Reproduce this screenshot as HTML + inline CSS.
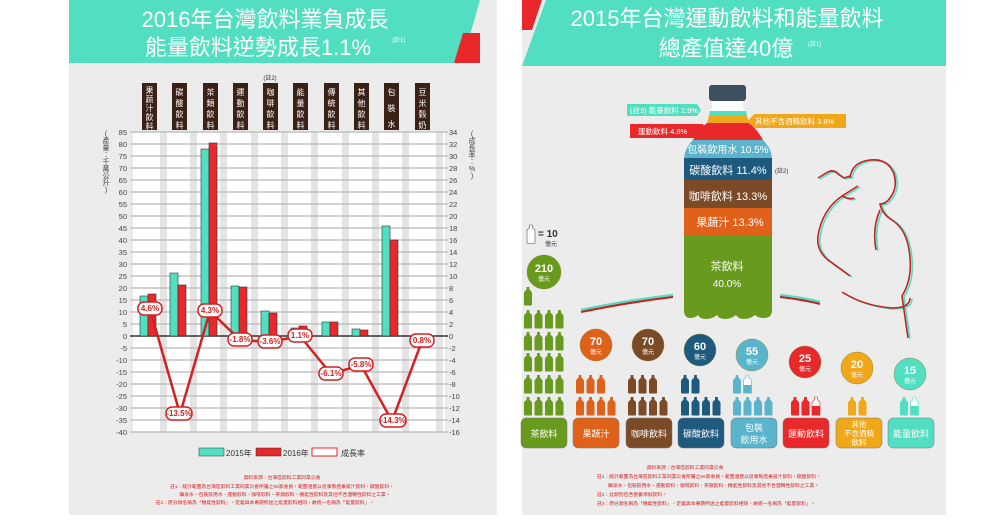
<!DOCTYPE html><html><head><meta charset="utf-8"><style>
body{margin:0;background:#fff;}
svg{display:block;font-family:"Liberation Sans","Noto Sans CJK TC",sans-serif;}
</style></head><body>
<svg width="1000" height="523" viewBox="0 0 1000 523">
<defs>
<path id="b" d="M2.6 0h2.8v2.5l1.2 1.2Q8 4.5 8 6v11.5q0 1-1 1H1q-1 0-1-1V6q0-1.5 1.4-2.3l1.2-1.2z"/>
</defs>
<rect x="69" y="0" width="428" height="515" fill="#ececec"/>
<rect x="522" y="0" width="424" height="515" fill="#ececec"/>
<polygon points="69,0 480,0 462,63 69,63" fill="#52dfc1"/>
<polygon points="463,33 480,33 480,63 454,63" fill="#e8282a"/>
<text x="265" y="27" font-size="22" fill="#fff" text-anchor="middle">2016年台灣飲料業負成長</text>
<text x="258" y="55" font-size="22" fill="#fff" text-anchor="middle">能量飲料逆勢成長1.1%</text>
<text x="392" y="42" font-size="6" fill="#fff">(註1)</text>
<rect x="133" y="132" width="312" height="300" fill="#fff"/>
<g fill="#e4e4e4">
<rect x="160" y="132" width="7" height="300"/><rect x="190" y="132" width="7" height="300"/><rect x="220" y="132" width="7" height="300"/><rect x="251" y="132" width="7" height="300"/><rect x="281" y="132" width="7" height="300"/><rect x="311" y="132" width="7" height="300"/><rect x="342" y="132" width="7" height="300"/><rect x="372" y="132" width="7" height="300"/><rect x="402" y="132" width="7" height="300"/><rect x="436" y="132" width="7" height="300"/>
</g>
<g stroke="#b8b8b8" stroke-width="1.3">
<line x1="130" y1="132" x2="448" y2="132"/><line x1="130" y1="144" x2="448" y2="144"/><line x1="130" y1="156" x2="448" y2="156"/><line x1="130" y1="168" x2="448" y2="168"/><line x1="130" y1="180" x2="448" y2="180"/><line x1="130" y1="192" x2="448" y2="192"/><line x1="130" y1="204" x2="448" y2="204"/><line x1="130" y1="216" x2="448" y2="216"/><line x1="130" y1="228" x2="448" y2="228"/><line x1="130" y1="240" x2="448" y2="240"/><line x1="130" y1="252" x2="448" y2="252"/><line x1="130" y1="264" x2="448" y2="264"/><line x1="130" y1="276" x2="448" y2="276"/><line x1="130" y1="288" x2="448" y2="288"/><line x1="130" y1="300" x2="448" y2="300"/><line x1="130" y1="312" x2="448" y2="312"/><line x1="130" y1="324" x2="448" y2="324"/><line x1="130" y1="348" x2="448" y2="348"/><line x1="130" y1="360" x2="448" y2="360"/><line x1="130" y1="372" x2="448" y2="372"/><line x1="130" y1="384" x2="448" y2="384"/><line x1="130" y1="396" x2="448" y2="396"/><line x1="130" y1="408" x2="448" y2="408"/><line x1="130" y1="420" x2="448" y2="420"/><line x1="130" y1="432" x2="448" y2="432"/>
</g>
<line x1="130" y1="336" x2="448" y2="336" stroke="#333" stroke-width="1.5"/>
<g font-size="7.5" fill="#444" text-anchor="end">
<text x="127" y="135">85</text><text x="127" y="147">80</text><text x="127" y="159">75</text><text x="127" y="171">70</text><text x="127" y="183">65</text><text x="127" y="195">60</text><text x="127" y="207">55</text><text x="127" y="219">50</text><text x="127" y="231">45</text><text x="127" y="243">40</text><text x="127" y="255">35</text><text x="127" y="267">30</text><text x="127" y="279">25</text><text x="127" y="291">20</text><text x="127" y="303">15</text><text x="127" y="315">10</text><text x="127" y="327">5</text><text x="127" y="339">0</text><text x="127" y="351">-5</text><text x="127" y="363">-10</text><text x="127" y="375">-15</text><text x="127" y="387">-20</text><text x="127" y="399">-25</text><text x="127" y="411">-30</text><text x="127" y="423">-35</text><text x="127" y="435">-40</text>
</g>
<g font-size="7.5" fill="#444">
<text x="449" y="135">34</text><text x="449" y="147">32</text><text x="449" y="159">30</text><text x="449" y="171">28</text><text x="449" y="183">26</text><text x="449" y="195">24</text><text x="449" y="207">22</text><text x="449" y="219">20</text><text x="449" y="231">18</text><text x="449" y="243">16</text><text x="449" y="255">14</text><text x="449" y="267">12</text><text x="449" y="279">10</text><text x="449" y="291">8</text><text x="449" y="303">6</text><text x="449" y="315">4</text><text x="449" y="327">2</text><text x="449" y="339">0</text><text x="449" y="351">-2</text><text x="449" y="363">-4</text><text x="449" y="375">-6</text><text x="449" y="387">-8</text><text x="449" y="399">-10</text><text x="449" y="411">-12</text><text x="449" y="423">-14</text><text x="449" y="435">-16</text>
</g>
<g font-size="7" fill="#444" text-anchor="middle">
<text x="106" y="136">(</text><text x="106" y="143">產</text><text x="106" y="150">量</text><text x="106" y="157">：</text><text x="106" y="164">千</text><text x="106" y="171">萬</text><text x="106" y="178">公</text><text x="106" y="185">升</text><text x="106" y="192">)</text>
<text x="472" y="136">(</text><text x="472" y="143">成</text><text x="472" y="150">長</text><text x="472" y="157">率</text><text x="472" y="164">：</text><text x="472" y="171">%</text><text x="472" y="178">)</text>
</g>
<g fill="#3b2217">
<rect x="142" y="83" width="15" height="47"/><rect x="172" y="83" width="15" height="47"/><rect x="203" y="83" width="15" height="47"/><rect x="233" y="83" width="15" height="47"/><rect x="263" y="83" width="15" height="47"/><rect x="293" y="83" width="15" height="47"/><rect x="324" y="83" width="15" height="47"/><rect x="354" y="83" width="15" height="47"/><rect x="384" y="83" width="15" height="47"/><rect x="415" y="83" width="15" height="47"/>
</g>
<text x="270" y="80" font-size="6" fill="#333" text-anchor="middle">(註2)</text>
<g font-size="8" fill="#fff" text-anchor="middle">
<text x="149.5" y="93">果</text><text x="149.5" y="102">蔬</text><text x="149.5" y="111">汁</text><text x="149.5" y="120">飲</text><text x="149.5" y="129">料</text>
<text x="179.5" y="95">碳</text><text x="179.5" y="106">酸</text><text x="179.5" y="117">飲</text><text x="179.5" y="128">料</text>
<text x="210.5" y="95">茶</text><text x="210.5" y="106">類</text><text x="210.5" y="117">飲</text><text x="210.5" y="128">料</text>
<text x="240.5" y="95">運</text><text x="240.5" y="106">動</text><text x="240.5" y="117">飲</text><text x="240.5" y="128">料</text>
<text x="270.5" y="95">咖</text><text x="270.5" y="106">啡</text><text x="270.5" y="117">飲</text><text x="270.5" y="128">料</text>
<text x="300.5" y="95">能</text><text x="300.5" y="106">量</text><text x="300.5" y="117">飲</text><text x="300.5" y="128">料</text>
<text x="331.5" y="95">傳</text><text x="331.5" y="106">統</text><text x="331.5" y="117">飲</text><text x="331.5" y="128">料</text>
<text x="361.5" y="95">其</text><text x="361.5" y="106">他</text><text x="361.5" y="117">飲</text><text x="361.5" y="128">料</text>
<text x="391.5" y="95">包</text><text x="391.5" y="111">裝</text><text x="391.5" y="127">水</text>
<text x="422.5" y="95">豆</text><text x="422.5" y="106">米</text><text x="422.5" y="117">穀</text><text x="422.5" y="128">奶</text>
</g>
<g stroke="#333" stroke-width="0.6">
<g fill="#50dfc0">
<rect x="140" y="296" width="8" height="40"/><rect x="170" y="273" width="8" height="63"/><rect x="201" y="149" width="8" height="187"/><rect x="231" y="286" width="8" height="50"/><rect x="261" y="311" width="8" height="25"/><rect x="291" y="328" width="8" height="8"/><rect x="322" y="322" width="8" height="14"/><rect x="352" y="329" width="8" height="7"/><rect x="382" y="226" width="8" height="110"/><rect x="413" y="334" width="8" height="2"/>
</g>
<g fill="#e8282a">
<rect x="148" y="294" width="8" height="42"/><rect x="178" y="285" width="8" height="51"/><rect x="209" y="143" width="8" height="193"/><rect x="239" y="287" width="8" height="49"/><rect x="269" y="313" width="8" height="23"/><rect x="299" y="326" width="8" height="10"/><rect x="330" y="322" width="8" height="14"/><rect x="360" y="330" width="8" height="6"/><rect x="390" y="240" width="8" height="96"/><rect x="421" y="335" width="8" height="1"/>
</g></g>
<polyline points="150,309 180,414 210,311 240,340 270,342 300,336 331,374 361,365 392,421 422,341" fill="none" stroke="#d42020" stroke-width="2.5"/>
<g fill="#fff" stroke="#d42020" stroke-width="1.5">
<rect x="138" y="302" width="24" height="13" rx="6"/><rect x="166" y="407" width="26" height="13" rx="6"/><rect x="198" y="304" width="24" height="13" rx="6"/><rect x="228" y="333" width="24" height="13" rx="6"/><rect x="258" y="335" width="24" height="13" rx="6"/><rect x="288" y="329" width="24" height="13" rx="6"/><rect x="319" y="367" width="24" height="13" rx="6"/><rect x="349" y="358" width="24" height="13" rx="6"/><rect x="380" y="414" width="26" height="13" rx="6"/><rect x="410" y="334" width="24" height="13" rx="6"/>
</g>
<g font-size="8" fill="#d42020" text-anchor="middle" font-weight="bold">
<text x="150" y="311">4.6%</text><text x="179" y="416">-13.5%</text><text x="210" y="313">4.3%</text><text x="240" y="342">-1.8%</text><text x="270" y="344">-3.6%</text><text x="300" y="338">1.1%</text><text x="331" y="376">-6.1%</text><text x="361" y="367">-5.8%</text><text x="393" y="423">-14.3%</text><text x="422" y="343">0.8%</text>
</g>
<rect x="199" y="448" width="25" height="8" fill="#50dfc0" stroke="#333" stroke-width="0.5"/><text x="226" y="456" font-size="8" fill="#333">2015年</text>
<rect x="256" y="448" width="25" height="8" fill="#e8282a" stroke="#333" stroke-width="0.5"/><text x="283" y="456" font-size="8" fill="#333">2016年</text>
<rect x="312" y="448" width="25" height="8" fill="#fff" stroke="#e8282a" stroke-width="1"/><text x="341" y="456" font-size="8" fill="#333">成長率</text>
<g font-size="4.8" fill="#d42020" text-anchor="middle">
<text x="282" y="479">資料來源：台灣區飲料工業同業公會</text>
<text x="282" y="488">註1：統計範圍為台灣區飲料工業同業公會所屬之66家會員，範圍涵蓋以從事製造果蔬汁飲料、碳酸飲料、</text>
<text x="285" y="496">礦泉水、包裝飲用水、運動飲料、咖啡飲料、茶類飲料、機能性飲料及其他不含酒精性飲料之工業。</text>
<text x="265" y="504">註2：原分類名稱為「機能性飲料」，定義與本專題所述之能量飲料相同，故統一名稱為「能量飲料」。</text>
</g>

<polygon points="546,0 946,0 946,66 522,66" fill="#52dfc1"/>
<polygon points="522,0 542,0 532,30 522,30" fill="#e8282a"/>
<text x="727" y="26" font-size="22" fill="#fff" text-anchor="middle">2015年台灣運動飲料和能量飲料</text>
<text x="726" y="56" font-size="22" fill="#fff" text-anchor="middle">總產值達40億</text>
<text x="808" y="46" font-size="6" fill="#fff">(註1)</text>
<rect x="709" y="85" width="37" height="16" rx="3" fill="#3e4f5f"/>
<path d="M712 101h31v6q0 3 3 4l-3 5h-31l-2-5q2-1 2-4z" fill="#fff"/>
<path d="M710 111h36l1 5h-38z" fill="#52dfc1"/>
<path d="M709 116h38l2 7h-42z" fill="#f0a719"/>
<path d="M707 123h42q8 6 14 17h-70q6-11 14-17z" fill="#e8282a"/>
<path d="M693 140h70q8 8 9 18h-88q1-10 9-18z" fill="#5ab4cc"/>
<rect x="684" y="158" width="88" height="22" fill="#1d5a7d"/>
<rect x="684" y="180" width="88" height="28" fill="#7b4a27"/>
<rect x="684" y="208" width="88" height="27" fill="#e0611a"/>
<path d="M684 235h88v75q0 8-8 8q-6 0-9-3q-5 4-11 4t-8-4q-5 4-11 4t-8-4q-5 4-11 4t-8-4q-3 3-8 3q-6 0-6-8z" fill="#689a1d"/>
<g fill="#fff" text-anchor="middle">
<text x="728" y="153" font-size="10">包裝飲用水 10.5%</text>
<text x="728" y="174" font-size="11">碳酸飲料 11.4%</text>
<text x="728" y="200" font-size="11">咖啡飲料 13.3%</text>
<text x="730" y="226" font-size="11">果蔬汁 13.3%</text>
<text x="727" y="270" font-size="11">茶飲料</text>
<text x="727" y="287" font-size="10">40.0%</text>
</g>
<text x="775" y="173" font-size="6" fill="#333">(註2)</text>
<path d="M627 104h70l4 6l-4 6h-70z" fill="#52dfc1"/><text x="630" y="113" font-size="7.5" fill="#fff">(註3) 能量飲料 2.9%</text>
<path d="M754 114h92v14h-92l-6-7z" fill="#f0a719"/><text x="755" y="124" font-size="7.5" fill="#fff">其他不含酒精飲料 3.8%</text>
<path d="M630 124h73l4 7l-4 7h-73z" fill="#e8282a"/><text x="638" y="134" font-size="7.5" fill="#fff">運動飲料 4.8%</text>
<path d="M581 310Q630 300 673 295" stroke="#52dfc1" stroke-width="2.5" fill="none"/>
<path d="M581 312Q630 302 673 297" stroke="#c8201f" stroke-width="2" fill="none"/>
<path d="M780 295Q805 298 820 302" stroke="#52dfc1" stroke-width="2.5" fill="none"/>
<path d="M780 297Q805 300 820 304" stroke="#c8201f" stroke-width="2" fill="none"/>
<g fill="none" stroke-width="1.6">
<g stroke="#52dfc1" transform="translate(2,1)">
<path d="M818 178l10-6q6-3 10 2l6 4l6-2M850 178q2-16 20-18q18-2 24 14q4 14-4 24q-4 6-10 6q2 10 12 16q16 10 18 38q2 22-8 38l6 42M858 186l-16 10q-20 14-24 40q-2 14 10 24l22 16M880 210q-8 18-4 40M842 292q22 14 50 16q18 0 18-10M842 196q8 4 12 2"/>
</g>
<g stroke="#c8201f">
<path d="M818 178l10-6q6-3 10 2l6 4l6-2M850 178q2-16 20-18q18-2 24 14q4 14-4 24q-4 6-10 6q2 10 12 16q16 10 18 38q2 22-8 38l6 42M858 186l-16 10q-20 14-24 40q-2 14 10 24l22 16M880 210q-8 18-4 40M842 292q22 14 50 16q18 0 18-10M842 196q8 4 12 2"/>
</g></g>
<use href="#b" x="527" y="225" fill="#fff" stroke="#555" stroke-width="0.6"/>
<text x="538" y="237" font-size="10" fill="#333" font-weight="bold">= 10</text>
<text x="545" y="246" font-size="6" fill="#333">億元</text>
<g stroke="#8a8a3a" stroke-width="0.5">
<circle cx="544" cy="272" r="17" fill="#689a1d"/>
<circle cx="596" cy="345" r="16" fill="#e0611a"/>
<circle cx="648" cy="345" r="16" fill="#7b4a27"/>
<circle cx="700" cy="350" r="16" fill="#1d5a7d"/>
<circle cx="752" cy="355" r="16" fill="#5ab4cc"/>
<circle cx="805" cy="362" r="16" fill="#e8282a"/>
<circle cx="857" cy="368" r="16" fill="#f0a719"/>
<circle cx="910" cy="374" r="16" fill="#52dfc1"/>
</g>
<g fill="#fff" text-anchor="middle">
<g font-size="11" font-weight="bold"><text x="544" y="272">210</text><text x="596" y="345">70</text><text x="648" y="345">70</text><text x="700" y="350">60</text><text x="752" y="355">55</text><text x="805" y="362">25</text><text x="857" y="368">20</text><text x="910" y="374">15</text></g>
<g font-size="6"><text x="544" y="281">億元</text><text x="596" y="354">億元</text><text x="648" y="354">億元</text><text x="700" y="359">億元</text><text x="752" y="364">億元</text><text x="805" y="371">億元</text><text x="857" y="377">億元</text><text x="910" y="383">億元</text></g>
</g>
<g fill="#689a1d">
<use href="#b" x="524" y="287"/>
<use href="#b" x="524" y="310"/><use href="#b" x="534.5" y="310"/><use href="#b" x="545" y="310"/><use href="#b" x="555.5" y="310"/>
<use href="#b" x="524" y="332"/><use href="#b" x="534.5" y="332"/><use href="#b" x="545" y="332"/><use href="#b" x="555.5" y="332"/>
<use href="#b" x="524" y="353"/><use href="#b" x="534.5" y="353"/><use href="#b" x="545" y="353"/><use href="#b" x="555.5" y="353"/>
<use href="#b" x="524" y="375"/><use href="#b" x="534.5" y="375"/><use href="#b" x="545" y="375"/><use href="#b" x="555.5" y="375"/>
<use href="#b" x="524" y="397"/><use href="#b" x="534.5" y="397"/><use href="#b" x="545" y="397"/><use href="#b" x="555.5" y="397"/>
</g>
<g fill="#e0611a"><use href="#b" x="576" y="375"/><use href="#b" x="586.5" y="375"/><use href="#b" x="597" y="375"/><use href="#b" x="576" y="397"/><use href="#b" x="586.5" y="397"/><use href="#b" x="597" y="397"/><use href="#b" x="607.5" y="397"/></g>
<g fill="#7b4a27"><use href="#b" x="628" y="375"/><use href="#b" x="638.5" y="375"/><use href="#b" x="649" y="375"/><use href="#b" x="628" y="397"/><use href="#b" x="638.5" y="397"/><use href="#b" x="649" y="397"/><use href="#b" x="659.5" y="397"/></g>
<g fill="#1d5a7d"><use href="#b" x="681" y="375"/><use href="#b" x="691.5" y="375"/><use href="#b" x="681" y="397"/><use href="#b" x="691.5" y="397"/><use href="#b" x="702" y="397"/><use href="#b" x="712.5" y="397"/></g>
<g fill="#5ab4cc"><use href="#b" x="733" y="375"/><use href="#b" x="733" y="397"/><use href="#b" x="743.5" y="397"/><use href="#b" x="754" y="397"/><use href="#b" x="764.5" y="397"/></g>
<use href="#b" x="743.5" y="375" fill="#fff" stroke="#5ab4cc" stroke-width="0.6"/><rect x="743.5" y="385" width="8" height="8" fill="#5ab4cc"/>
<g fill="#e8282a"><use href="#b" x="791" y="397"/><use href="#b" x="801.5" y="397"/></g>
<use href="#b" x="812" y="397" fill="#fff" stroke="#e8282a" stroke-width="0.6"/><rect x="812" y="406" width="8" height="9" fill="#e8282a"/>
<g fill="#f0a719"><use href="#b" x="848" y="397"/><use href="#b" x="858.5" y="397"/></g>
<use href="#b" x="900" y="397" fill="#52dfc1"/>
<use href="#b" x="910.5" y="397" fill="#fff" stroke="#52dfc1" stroke-width="0.6"/><rect x="910.5" y="406" width="8" height="9" fill="#52dfc1"/>
<g stroke="#777" stroke-width="0.5">
<rect x="521" y="418" width="46" height="30" rx="5" fill="#689a1d"/>
<rect x="573" y="418" width="46" height="30" rx="5" fill="#e0611a"/>
<rect x="626" y="418" width="46" height="30" rx="5" fill="#7b4a27"/>
<rect x="678" y="418" width="46" height="30" rx="5" fill="#1d5a7d"/>
<rect x="731" y="418" width="46" height="30" rx="5" fill="#5ab4cc"/>
<rect x="783" y="418" width="46" height="30" rx="5" fill="#e8282a"/>
<rect x="836" y="418" width="46" height="30" rx="5" fill="#f0a719"/>
<rect x="888" y="418" width="46" height="30" rx="5" fill="#52dfc1"/>
</g>
<g fill="#fff" text-anchor="middle" font-size="9">
<text x="544" y="437">茶飲料</text><text x="596" y="437">果蔬汁</text><text x="649" y="437">咖啡飲料</text><text x="701" y="437">碳酸飲料</text>
<text x="754" y="431">包裝</text><text x="754" y="443">飲用水</text>
<text x="806" y="437">運動飲料</text>
<text x="859" y="427" font-size="7.5">其他</text><text x="859" y="436" font-size="7.5">不含酒精</text><text x="859" y="445" font-size="7.5">飲料</text>
<text x="911" y="437">能量飲料</text>
</g>
<g font-size="4.8" fill="#d42020">
<text x="685" y="469" text-anchor="middle">資料來源：台灣區飲料工業同業公會</text>
<text x="597" y="478">註1：統計範圍為台灣區飲料工業同業公會所屬之66家會員，範圍涵蓋以從事製造果蔬汁飲料、碳酸飲料、</text>
<text x="608" y="487">礦泉水、包裝飲用水、運動飲料、咖啡飲料、茶類飲料、機能性飲料及其他不含酒精性飲料之工業。</text>
<text x="597" y="496">註2：此類別包含營養添加飲料。</text>
<text x="597" y="505">註3：原分類名稱為「機能性飲料」，定義與本專題所述之能量飲料相同，故統一名稱為「能量飲料」。</text>
</g>
</svg>
</body></html>
